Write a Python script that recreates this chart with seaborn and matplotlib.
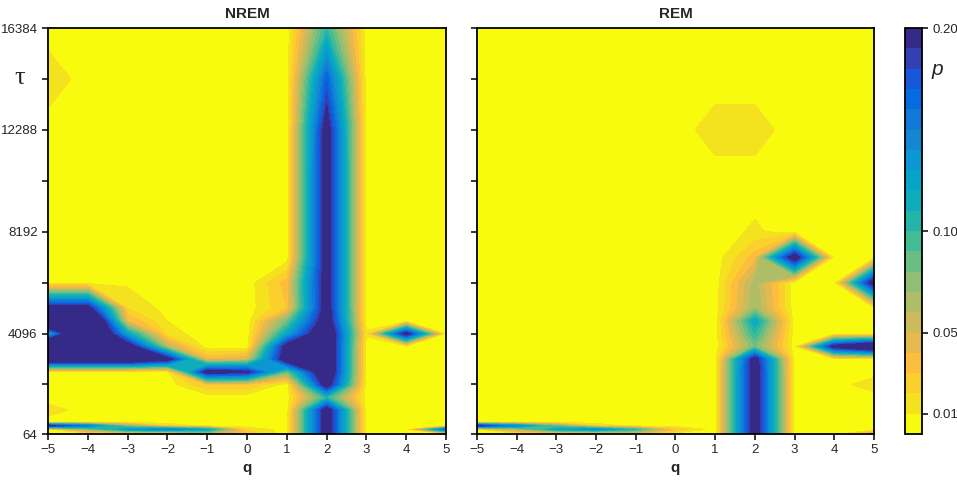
import numpy as np
import matplotlib
matplotlib.use("Agg")
import matplotlib.pyplot as plt
import seaborn as sns
from matplotlib.colors import ListedColormap, BoundaryNorm
from matplotlib.cm import ScalarMappable

# grid of the contour maps
q = [-5, -4, -3, -2, -1, 0, 1, 2, 3, 4, 5]
tau = [64, 250, 400, 550, 1024, 1536, 2048, 2560, 3072, 3584, 4096,
       4608, 5120, 6144, 7168, 8192, 10240, 12288, 14336, 16384]

# p values, one row per tau (bottom to top), one column per q
nrem_p = [
    [.004, .004, .004, .004, .06, .03, .004, .215, .004, .004, .004],   # 64
    [.004, .07, .13, .15, .12, .02, .004, .215, .004, .004, .17],       # 250
    [.20, .15, .07, .02, .004, .004, .004, .215, .004, .004, .004],     # 400
    [.004, .004, .004, .004, .004, .004, .004, .215, .004, .004, .004], # 550
    [.016, .004, .004, .004, .004, .004, .004, .215, .004, .004, .004], # 1024
    [.004, .004, .004, .004, .004, .004, .004, .10, .004, .004, .004],  # 1536
    [.004, .004, .004, .004, .03, .03, .004, .215, .004, .004, .004],   # 2048
    [.004, .004, .004, .004, .21, .20, .08, .24, .004, .004, .004],     # 2560
    [.25, .25, .25, .21, .04, .05, .22, .24, .004, .004, .004],         # 3072
    [.30, .30, .22, .06, .004, .004, .21, .24, .004, .004, .004],       # 3584
    [.11, .30, .12, .015, .004, .004, .12, .24, .012, .21, .004],       # 4096
    [.30, .30, .04, .01, .004, .004, .08, .22, .004, .004, .004],       # 4608
    [.21, .21, .02, .006, .004, .004, .03, .212, .004, .004, .004],     # 5120
    [.004, .004, .008, .004, .004, .004, .035, .212, .004, .004, .004], # 6144
    [.004, .004, .004, .004, .004, .004, .004, .212, .004, .004, .004], # 7168
    [.004, .004, .004, .004, .004, .004, .004, .212, .004, .004, .004], # 8192
    [.004, .004, .004, .004, .004, .004, .004, .212, .004, .004, .004], # 10240
    [.004, .004, .004, .004, .004, .004, .004, .21, .004, .004, .004],  # 12288
    [.018, .004, .004, .004, .004, .004, .004, .17, .004, .004, .004],  # 14336
    [.004, .004, .004, .004, .004, .004, .004, .10, .004, .004, .004],  # 16384
]

rem_p = [
    [.004, .004, .004, .004, .04, .004, .004, .215, .004, .004, .06],   # 64
    [.004, .06, .12, .14, .10, .03, .004, .215, .004, .004, .004],      # 250
    [.20, .14, .08, .02, .004, .004, .004, .215, .004, .004, .004],     # 400
    [.004, .004, .004, .004, .004, .004, .004, .215, .004, .004, .004], # 550
    [.004, .004, .004, .004, .004, .004, .004, .215, .004, .004, .004], # 1024
    [.004, .004, .004, .004, .004, .004, .004, .215, .004, .004, .004], # 1536
    [.004, .004, .004, .004, .004, .004, .004, .215, .004, .004, .018], # 2048
    [.004, .004, .004, .004, .004, .004, .004, .215, .004, .004, .004], # 2560
    [.004, .004, .004, .004, .004, .004, .004, .21, .004, .004, .004],  # 3072
    [.004, .004, .004, .004, .004, .004, .004, .08, .004, .21, .26],    # 3584
    [.004, .004, .004, .004, .004, .004, .004, .10, .004, .004, .004],  # 4096
    [.004, .004, .004, .004, .004, .004, .004, .12, .004, .004, .004],  # 4608
    [.004, .004, .004, .004, .004, .004, .004, .07, .004, .004, .004],  # 5120
    [.004, .004, .004, .004, .004, .004, .004, .065, .004, .004, .22],  # 6144
    [.004, .004, .004, .004, .004, .004, .004, .035, .22, .004, .004],  # 7168
    [.004, .004, .004, .004, .004, .004, .004, .012, .004, .004, .004], # 8192
    [.004, .004, .004, .004, .004, .004, .004, .004, .004, .004, .004], # 10240
    [.004, .004, .004, .004, .004, .004, .016, .016, .004, .004, .004], # 12288
    [.004, .004, .004, .004, .004, .004, .004, .004, .004, .004, .004], # 14336
    [.004, .004, .004, .004, .004, .004, .004, .004, .004, .004, .004], # 16384
]

panels = ["NREM", "REM"]
p_levels = [0.00, 0.01, 0.02, 0.03, 0.04, 0.05, 0.06, 0.07, 0.08, 0.09, 0.10,
            0.11, 0.12, 0.13, 0.14, 0.15, 0.16, 0.17, 0.18, 0.19, 0.20]
cbar_ticks = [0.01, 0.05, 0.10, 0.20]
q_ticks = [-5, -4, -3, -2, -1, 0, 1, 2, 3, 4, 5]
tau_ticks = [64, 4096, 8192, 12288, 16384]
tau_minor = [2080, 6144, 10240, 14336]

# reversed parula, one colour per 0.01 band (low p = yellow)
band_colors = ["#f9fb0e", "#f5e21e", "#fbd02c", "#fdbe3d", "#e6b94f",
               "#ccbb5b", "#afbd67", "#8fbf74", "#6abe83", "#44bb97",
               "#23b4aa", "#0dadbb", "#06a4c9", "#0998d1", "#1487d3",
               "#117ad9", "#046ce0", "#1558da", "#343fb1", "#352a87"]

sns.set_style("ticks")
plt.rcParams["font.family"] = ["Liberation Sans", "DejaVu Sans"]

cmap = ListedColormap(band_colors)
cmap.set_over(band_colors[-1])
norm = BoundaryNorm(p_levels, cmap.N)

fig = plt.figure(figsize=(9.57, 4.8), dpi=100)
ax1 = fig.add_axes([0.0502, 0.0958, 0.4159, 0.8458])
ax2 = fig.add_axes([0.4984, 0.0958, 0.4148, 0.8458])
cax = fig.add_axes([0.9457, 0.0958, 0.0178, 0.8458])

for ax, name, data in zip([ax1, ax2], panels, [nrem_p, rem_p]):
    ax.contourf(q, tau, np.array(data), levels=p_levels, cmap=cmap,
                norm=norm, extend="max", antialiased=False)
    ax.set_xlim(-5, 5)
    ax.set_ylim(64, 16384)
    ax.set_xticks(q_ticks)
    ax.set_yticks(tau_ticks)
    ax.set_yticks(tau_minor, minor=True)
    ax.tick_params(axis="both", which="major", direction="out", length=4,
                   width=1.1, labelsize=9.5, color="black")
    ax.tick_params(axis="y", which="minor", direction="out", length=4,
                   width=1.1, color="black")
    for sp in ax.spines.values():
        sp.set_visible(True)
        sp.set_color("black")
        sp.set_linewidth(1.3)
    ax.set_title(name, fontweight="bold", fontsize=11, pad=7)
    ax.set_xlabel("q", fontweight="bold", fontsize=11, labelpad=3)

ax2.set_yticklabels([])
ax1.set_ylabel("τ", rotation=0, fontsize=19, family="Liberation Serif")
ax1.yaxis.set_label_coords(-0.07, 0.85)

cb = fig.colorbar(ScalarMappable(norm=norm, cmap=cmap), cax=cax,
                  ticks=cbar_ticks)
cb.ax.minorticks_off()
cb.ax.set_yticklabels(["0.01", "0.05", "0.10", "0.20"])
cb.ax.tick_params(direction="out", length=4, width=1.1, labelsize=9.5,
                  color="black")
cb.outline.set_edgecolor("black")
cb.outline.set_linewidth(1.3)
fig.text(0.979, 0.855, "p", style="italic", fontsize=15, ha="center",
         va="center")

fig.savefig("out.png", dpi=100)
